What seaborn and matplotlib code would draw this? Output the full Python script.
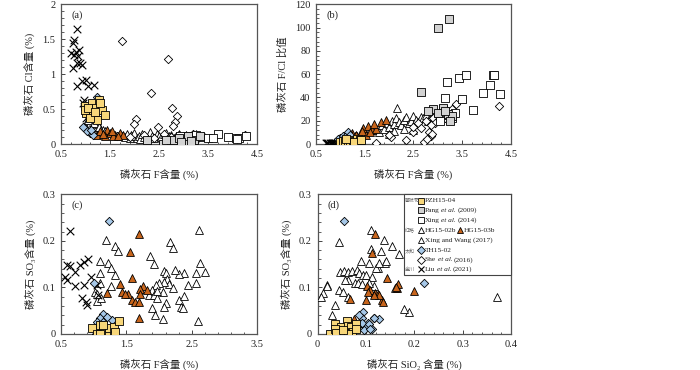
import matplotlib
matplotlib.use("Agg")
import numpy as np
import pandas as pd
import seaborn as sns
import matplotlib.pyplot as plt
from matplotlib.ticker import MultipleLocator, AutoMinorLocator, FuncFormatter
from matplotlib.patches import Rectangle

# ---------------- data: panel (a) F vs Cl ----------------
a_pzh_f = [0.99, 1.13, 1.28, 1.21, 1.02, 1.16, 1.33, 1.40, 1.23, 1.09, 0.99, 1.30, 1.06, 1.19]
a_pzh_cl = [0.54, 0.58, 0.63, 0.51, 0.44, 0.41, 0.49, 0.41, 0.34, 0.37, 0.49, 0.58, 0.51, 0.46]
a_th_f = [1.24, 0.99, 1.09, 1.15, 1.04, 0.95, 1.12]
a_th_cl = [0.67, 0.23, 0.16, 0.13, 0.18, 0.25, 0.20]
a_liu_f = [0.83, 0.77, 0.74, 0.70, 0.81, 0.87, 0.77, 0.85, 0.74, 0.83, 0.92, 0.89, 0.83, 0.92,
           1.02, 1.06, 1.18, 0.97, 0.95, 1.04, 1.01]
a_liu_cl = [1.64, 1.49, 1.45, 1.30, 1.32, 1.35, 1.28, 1.26, 1.09, 1.16, 1.13, 1.16, 0.83, 0.90,
            0.92, 0.83, 0.85, 0.63, 0.59, 0.44, 0.37]
a_hg3_f = [1.23, 1.43, 1.50, 1.60, 1.70, 1.77, 1.57, 1.40, 1.67, 1.29, 1.35, 1.55]
a_hg3_cl = [0.13, 0.20, 0.16, 0.13, 0.16, 0.13, 0.11, 0.12, 0.11, 0.18, 0.15, 0.19]
a_hg2_f = [1.02, 1.08, 1.15, 1.20, 1.25, 1.30, 1.35, 1.12, 1.40, 1.05, 1.18, 1.28]
a_hg2_cl = [0.30, 0.27, 0.32, 0.25, 0.28, 0.22, 0.20, 0.22, 0.18, 0.35, 0.30, 0.24]
a_xw_f = [1.75, 1.80, 1.85, 1.90, 1.92, 1.95, 2.00, 2.05, 2.10, 2.12, 2.15, 2.20, 2.25, 2.30,
          2.32, 2.35, 2.40, 2.45, 2.50, 2.55, 2.60, 2.62, 2.65, 2.70, 2.75, 2.80, 2.85, 2.90,
          2.95, 3.00, 3.05, 3.10, 3.15, 3.20, 3.25, 3.30]
a_xw_cl = [0.12, 0.10, 0.15, 0.08, 0.13, 0.11, 0.16, 0.09, 0.12, 0.07, 0.14, 0.10, 0.08, 0.13,
           0.17, 0.11, 0.09, 0.15, 0.12, 0.10, 0.14, 0.07, 0.16, 0.11, 0.13, 0.09, 0.12, 0.15,
           0.08, 0.11, 0.13, 0.10, 0.12, 0.09, 0.14, 0.11]
a_she_f = [1.74, 2.69, 2.33, 2.76, 2.86, 2.83, 2.79, 2.04, 1.99, 2.48, 4.26, 1.65, 1.90, 2.20,
           2.40, 2.60, 2.75, 2.90, 3.10, 3.20, 3.40, 3.00, 3.30]
a_she_cl = [1.47, 1.22, 0.73, 0.51, 0.40, 0.32, 0.26, 0.36, 0.29, 0.24, 0.13, 0.12, 0.10, 0.13,
            0.08, 0.15, 0.10, 0.13, 0.09, 0.14, 0.11, 0.12, 0.08]
a_pang_f = [2.58, 2.79, 3.03, 3.21, 2.65, 2.25, 3.33, 2.90, 3.10, 2.95, 3.15]
a_pang_cl = [0.00, 0.06, 0.04, 0.06, 0.06, 0.06, 0.11, 0.08, 0.12, 0.03, 0.05]
a_xing_f = [3.71, 3.91, 4.08, 4.14, 4.28, 3.50, 3.33, 3.09, 2.92, 4.10, 3.25, 3.60]
a_xing_cl = [0.14, 0.10, 0.09, 0.09, 0.11, 0.09, 0.10, 0.11, 0.11, 0.07, 0.13, 0.08]

# ---------------- data: panel (b) F vs F/Cl ----------------
b_pzh_f = [1.00, 1.05, 1.10, 1.15, 1.20, 1.25, 1.30, 1.35, 1.40, 1.12, 1.28, 1.42]
b_pzh_r = [2.0, 2.5, 1.8, 3.0, 2.2, 3.5, 2.8, 4.0, 3.2, 4.5, 1.5, 3.6]
b_th_f = [1.15, 1.00, 1.05, 1.20, 0.95, 1.10]
b_th_r = [10.6, 5.0, 7.0, 8.0, 4.0, 6.0]
b_liu_f = [0.70, 0.75, 0.80, 0.85, 0.90, 0.95, 1.00, 1.05, 0.72, 0.78, 0.82, 0.88, 1.00, 1.06]
b_liu_r = [0.5, 0.6, 0.7, 0.8, 1.0, 1.5, 2.2, 2.5, 0.55, 0.9, 0.65, 1.2, 1.8, 1.3]
b_hg3_f = [1.47, 1.57, 1.64, 1.74, 1.84, 1.94, 1.23, 1.33, 1.52, 1.45, 1.70, 1.60]
b_hg3_r = [13.4, 15.4, 12.0, 12.6, 19.1, 20.6, 9.7, 7.7, 7.7, 11.0, 17.0, 10.0]
b_hg2_f = [1.05, 1.10, 1.15, 1.20, 1.25, 1.30, 1.35, 1.40]
b_hg2_r = [3.5, 5.0, 4.0, 6.0, 5.5, 7.0, 6.5, 8.0]
b_xw_f = [1.60, 1.70, 1.80, 1.85, 1.90, 1.95, 2.00, 2.05, 2.10, 2.15, 2.17, 2.20, 2.25, 2.30,
          2.35, 2.40, 2.45, 2.50, 2.55, 2.60, 2.65, 2.70, 2.75, 2.80, 2.85, 2.90, 2.30, 2.50,
          2.10, 2.00]
b_xw_r = [12, 14, 10, 16, 13, 18, 15, 20, 17, 22, 30.7, 19, 16, 21,
          23, 18, 20, 24, 21, 19, 23, 22, 25, 20, 24, 26, 13, 12,
          11, 9]
b_she_f = [4.25, 3.37, 1.74, 2.34, 2.71, 2.85, 2.81, 2.48, 2.03, 1.99, 2.78, 2.88,
           2.60, 2.75, 2.90, 3.00, 3.10, 3.20, 3.30, 2.95, 2.50, 2.65, 3.15, 2.85]
b_she_r = [32.9, 34.0, 1.1, 3.4, 2.0, 6.9, 10.0, 10.0, 5.6, 8.0, 4.5, 8.5,
           18, 20, 22, 24, 26, 28, 30, 18, 15, 14, 22, 16]
b_pang_f = [3.00, 3.23, 2.66, 2.90, 3.10, 3.20, 3.30, 3.00, 3.15, 3.25, 2.80]
b_pang_r = [99.4, 107.0, 44.3, 30, 31, 26, 24, 27, 28, 20, 28]
b_xing_f = [3.19, 3.43, 3.57, 4.13, 4.16, 4.07, 3.92, 4.28, 3.15, 3.49, 3.72, 3.10, 3.20,
            3.30, 3.05, 3.35]
b_xing_r = [52.9, 57.0, 59.4, 59.0, 59.0, 50.9, 43.7, 42.9, 39.2, 38.4, 28.9, 30, 25,
            22, 20, 27]

# ---------------- data: panel (c) F vs SO3 ----------------
c_liu_f = [0.64, 0.59, 0.56, 0.59, 0.72, 0.64, 0.79, 0.85, 0.92, 0.72, 0.85, 0.82, 0.89,
           0.90, 0.96, 1.05, 1.06]
c_liu_s = [0.222, 0.148, 0.123, 0.116, 0.134, 0.145, 0.148, 0.155, 0.161, 0.102, 0.105,
           0.077, 0.069, 0.062, 0.123, 0.105, 0.084]
c_th_f = [1.23, 1.00, 1.14, 1.10, 1.05, 1.28, 1.20, 1.15, 1.08, 1.03]
c_th_s = [0.243, 0.109, 0.044, 0.034, 0.026, 0.030, 0.037, 0.026, 0.019, 0.001]
c_pzh_f = [0.97, 1.10, 1.15, 1.23, 1.31, 1.23, 1.31, 1.39, 1.15, 1.05, 1.33, 1.10]
c_pzh_s = [0.012, 0.019, 0.006, 0.001, 0.001, 0.012, 0.016, 0.028, 0.019, 0.001, 0.005, 0.001]
c_hg3_f = [1.70, 1.55, 1.59, 1.40, 1.44, 1.53, 1.48, 1.20, 1.75, 1.71, 1.82, 1.59, 1.64,
           1.70, 1.70, 1.71]
c_hg3_s = [0.214, 0.177, 0.120, 0.107, 0.091, 0.086, 0.085, 0.087, 0.104, 0.096, 0.095,
           0.073, 0.069, 0.069, 0.034, 0.086]
c_hg2_f = [1.19, 1.32, 1.37, 1.22, 1.09, 1.27, 1.33, 1.26, 1.10, 1.02, 1.05, 1.11, 1.05, 1.09]
c_hg2_s = [0.202, 0.188, 0.179, 0.153, 0.157, 0.142, 0.127, 0.104, 0.109, 0.091, 0.071,
           0.078, 0.085, 0.130]
c_xw_f = [2.61, 2.17, 2.21, 1.87, 1.92, 2.71, 2.63, 2.57, 2.57, 2.45, 2.38, 2.31, 2.24, 2.08,
          2.11, 2.13, 2.16, 2.08, 2.00, 1.95, 1.90, 1.84, 1.92, 1.97, 2.22, 2.06, 1.97, 2.31,
          2.38, 2.34, 2.37, 2.11, 2.08, 1.90, 1.94, 2.06, 2.59]
c_xw_s = [0.223, 0.197, 0.184, 0.168, 0.150, 0.134, 0.152, 0.132, 0.109, 0.105, 0.130, 0.129,
          0.137, 0.135, 0.130, 0.118, 0.107, 0.111, 0.109, 0.105, 0.095, 0.084, 0.084, 0.077,
          0.098, 0.091, 0.092, 0.073, 0.082, 0.059, 0.055, 0.066, 0.057, 0.055, 0.041, 0.032,
          0.028]

# ---------------- data: panel (d) SiO2 vs SO3 ----------------
d_th_si = [0.055, 0.220, 0.094, 0.091, 0.085, 0.117, 0.127, 0.105, 0.098, 0.112, 0.097,
           0.091, 0.116, 0.107, 0.109]
d_th_s = [0.243, 0.110, 0.048, 0.034, 0.041, 0.034, 0.032, 0.023, 0.016, 0.010, 0.009,
          0.024, 0.034, 0.022, 0.010]
d_pzh_si = [0.037, 0.060, 0.048, 0.062, 0.069, 0.080, 0.072, 0.057, 0.046, 0.026, 0.036,
            0.079, 0.039, 0.064, 0.053]
d_pzh_s = [0.021, 0.028, 0.016, 0.018, 0.015, 0.021, 0.005, 0.002, 0.001, 0.001, 0.011,
           0.011, 0.002, 0.001, 0.009]
d_hg3_si = [0.119, 0.113, 0.143, 0.103, 0.108, 0.105, 0.119, 0.126, 0.133, 0.101, 0.067,
            0.164, 0.200, 0.076, 0.166, 0.162, 0.135, 0.127, 0.117]
d_hg3_s = [0.214, 0.175, 0.121, 0.104, 0.095, 0.090, 0.089, 0.086, 0.073, 0.073, 0.075,
           0.098, 0.093, 0.033, 0.107, 0.100, 0.069, 0.084, 0.084]
d_hg2_si = [0.110, 0.137, 0.153, 0.110, 0.132, 0.107, 0.139, 0.126, 0.120, 0.169, 0.142,
            0.128, 0.161, 0.112, 0.117, 0.106, 0.190, 0.179]
d_hg2_s = [0.223, 0.202, 0.189, 0.183, 0.178, 0.153, 0.153, 0.142, 0.142, 0.171, 0.157,
           0.152, 0.098, 0.123, 0.103, 0.109, 0.048, 0.054]
d_xw_si = [0.044, 0.089, 0.046, 0.055, 0.063, 0.072, 0.081, 0.086, 0.095, 0.101, 0.077,
           0.084, 0.091, 0.062, 0.057, 0.020, 0.020, 0.012, 0.007, 0.044, 0.053, 0.062,
           0.036, 0.029, 0.371]
d_xw_s = [0.197, 0.156, 0.134, 0.136, 0.134, 0.135, 0.138, 0.132, 0.126, 0.126, 0.110,
          0.109, 0.108, 0.117, 0.117, 0.105, 0.102, 0.089, 0.079, 0.094, 0.090, 0.080,
          0.062, 0.041, 0.080]

# ---------------- styles ----------------
YEL = "#F8D77A"
ORG = "#C8651C"
GRY = "#D2D2D2"
BLU = "#A6C8E8"
STY = {
    "pzh": dict(marker="s", fc=YEL, s=30),
    "pang": dict(marker="s", fc=GRY, s=30),
    "xing": dict(marker="s", fc="white", s=30),
    "hg2": dict(marker="^", fc="white", s=32),
    "hg3": dict(marker="^", fc=ORG, s=32),
    "xw": dict(marker="^", fc="white", s=32),
    "th": dict(marker="D", fc=BLU, s=18),
    "she": dict(marker="D", fc="white", s=18),
    "liu": dict(marker="x", fc="black", s=30),
}

sns.set_style("ticks")
plt.rcParams["font.family"] = ["Liberation Serif", "DejaVu Serif", "Noto Sans CJK SC"]
plt.rcParams["axes.unicode_minus"] = False

fig = plt.figure(figsize=(7.0, 3.7), dpi=100)
ax_a = fig.add_axes([0.0871, 0.6108, 0.280, 0.3775])
ax_b = fig.add_axes([0.4514, 0.6108, 0.2786, 0.3775])
ax_c = fig.add_axes([0.0871, 0.0973, 0.280, 0.3776])
ax_d = fig.add_axes([0.4536, 0.0973, 0.2764, 0.3776])


def draw(ax, x, y, key):
    st = STY[key]
    df = pd.DataFrame({"x": x, "y": y})
    if st["marker"] == "x":
        sns.scatterplot(data=df, x="x", y="y", ax=ax, marker="x", color="black",
                        s=st["s"], linewidth=0.8, legend=False, zorder=3)
    else:
        sns.scatterplot(data=df, x="x", y="y", ax=ax, marker=st["marker"], color=st["fc"],
                        edgecolor="black", linewidth=0.6, s=st["s"], legend=False, zorder=3)


# panel a
draw(ax_a, a_xw_f, a_xw_cl, "xw")
draw(ax_a, a_hg2_f, a_hg2_cl, "hg2")
draw(ax_a, a_she_f, a_she_cl, "she")
draw(ax_a, a_xing_f, a_xing_cl, "xing")
draw(ax_a, a_pang_f, a_pang_cl, "pang")
draw(ax_a, a_liu_f, a_liu_cl, "liu")
draw(ax_a, a_hg3_f, a_hg3_cl, "hg3")
draw(ax_a, a_th_f, a_th_cl, "th")
draw(ax_a, a_pzh_f, a_pzh_cl, "pzh")

# panel b
draw(ax_b, b_xw_f, b_xw_r, "xw")
draw(ax_b, b_hg2_f, b_hg2_r, "hg2")
draw(ax_b, b_she_f, b_she_r, "she")
draw(ax_b, b_xing_f, b_xing_r, "xing")
draw(ax_b, b_pang_f, b_pang_r, "pang")
draw(ax_b, b_liu_f, b_liu_r, "liu")
draw(ax_b, b_hg3_f, b_hg3_r, "hg3")
draw(ax_b, b_th_f, b_th_r, "th")
draw(ax_b, b_pzh_f, b_pzh_r, "pzh")

# panel c
draw(ax_c, c_xw_f, c_xw_s, "xw")
draw(ax_c, c_hg2_f, c_hg2_s, "hg2")
draw(ax_c, c_liu_f, c_liu_s, "liu")
draw(ax_c, c_hg3_f, c_hg3_s, "hg3")
draw(ax_c, c_th_f, c_th_s, "th")
draw(ax_c, c_pzh_f, c_pzh_s, "pzh")

# panel d
draw(ax_d, d_xw_si, d_xw_s, "xw")
draw(ax_d, d_hg2_si, d_hg2_s, "hg2")
draw(ax_d, d_hg3_si, d_hg3_s, "hg3")
draw(ax_d, d_th_si, d_th_s, "th")
draw(ax_d, d_pzh_si, d_pzh_s, "pzh")

fmt = FuncFormatter(lambda v, p: f"{round(v, 6):g}")
AX = [
    (ax_a, (0.5, 4.5), (0, 2), 1.0, 0.5, 0.5, "磷灰石 F含量 (%)", "磷灰石 Cl含量 (%)", "(a)"),
    (ax_b, (0.5, 4.5), (0, 120), 1.0, 0.5, 20, "磷灰石 F含量 (%)", "磷灰石 F/Cl 比值", "(b)"),
    (ax_c, (0.5, 3.5), (0, 0.3), 1.0, 0.5, 0.1, "磷灰石 F含量 (%)", "磷灰石 SO₃含量 (%)", "(c)"),
    (ax_d, (0, 0.4), (0, 0.3), 0.1, 0.0, 0.1, "磷灰石 SiO₂ 含量 (%)", "磷灰石 SO₃含量 (%)", "(d)"),
]
for ax, xl, yl, xm, xoff, ym, xlab, ylab, tag in AX:
    ax.set_xlim(*xl)
    ax.set_ylim(*yl)
    ax.xaxis.set_major_locator(MultipleLocator(xm, offset=xoff))
    ax.yaxis.set_major_locator(MultipleLocator(ym))
    ax.xaxis.set_minor_locator(AutoMinorLocator(5))
    ax.yaxis.set_minor_locator(AutoMinorLocator(5))
    ax.xaxis.set_major_formatter(fmt)
    ax.yaxis.set_major_formatter(fmt)
    ax.tick_params(which="major", direction="in", length=3, width=0.7, color="#444444",
                   labelsize=7.5, pad=4, labelcolor="#222222")
    ax.tick_params(which="minor", direction="in", length=1.8, width=0.6, color="#444444")
    for sp in ax.spines.values():
        sp.set_visible(True)
        sp.set_color("#555555")
        sp.set_linewidth(0.9)
    ax.set_xlabel(xlab, fontsize=7.5, labelpad=7, color="#222222")
    ax.set_ylabel(ylab, fontsize=7.5, labelpad=5, color="#222222")
    ax.text(0.085, 0.925, tag, transform=ax.transAxes, ha="center", va="center",
            fontsize=7.5, color="#222222")

# ---------------- legend in panel d ----------------
ax = ax_d
ax.add_patch(Rectangle((0.447, 0.422), 0.553, 0.578, transform=ax.transAxes,
                       facecolor="white", edgecolor="#444444", linewidth=0.8,
                       zorder=10, clip_on=False))
rows = [0.955, 0.885, 0.815, 0.742, 0.670, 0.598, 0.530, 0.463]
entries = [
    (0, "pzh", ["PZH15-04"], 0.535),
    (1, "pang", ["Pang", "et al.", "(2009)"], 0.535),
    (2, "xing", ["Xing", "et al.", "(2014)"], 0.535),
    (3, "hg2", ["HG15-02b"], 0.535),
    (3, "hg3", ["HG15-03b"], 0.738),
    (4, "xw", ["Xing and Wang (2017)"], 0.535),
    (5, "th", ["TH15-02"], 0.535),
    (6, "she", ["She", "et al.", "(2016)"], 0.535),
    (7, "liu", ["Liu", "et al.", "(2021)"], 0.535),
]
LFS = 5.3
for r, key, parts, mx in entries:
    st = STY[key]
    y = rows[r]
    ms = {"s": 4.6, "^": 5.0, "D": 3.6, "x": 5.0}[st["marker"]]
    if st["marker"] == "x":
        ax.plot([mx], [y], marker="x", color="black", markersize=ms, mew=0.8,
                transform=ax.transAxes, zorder=11, clip_on=False, linestyle="none")
    else:
        ax.plot([mx], [y], marker=st["marker"], markerfacecolor=st["fc"],
                markeredgecolor="black", markersize=ms, mew=0.6,
                transform=ax.transAxes, zorder=11, clip_on=False, linestyle="none")
    t = ax.text(mx + 0.02, y, parts[0], transform=ax.transAxes, ha="left", va="center",
                fontsize=LFS, color="#222222", zorder=12)
    for i, p in enumerate(parts[1:]):
        t = ax.annotate(p, xy=(1, 0.5), xycoords=t, xytext=(1.1, 0),
                        textcoords="offset points", ha="left", va="center",
                        fontsize=LFS, color="#222222", zorder=12,
                        fontstyle="italic" if i == 0 else "normal")
for r, g in [(0, "攀枝花"), (3, "红格"), (5, "太和"), (7, "金川")]:
    ax.text(0.452, rows[r], g, transform=ax.transAxes, ha="left", va="center",
            fontsize=3.6, color="#666666", zorder=12,
            family=["Noto Sans CJK SC", "DejaVu Sans"])

fig.savefig("out.png", dpi=100)
